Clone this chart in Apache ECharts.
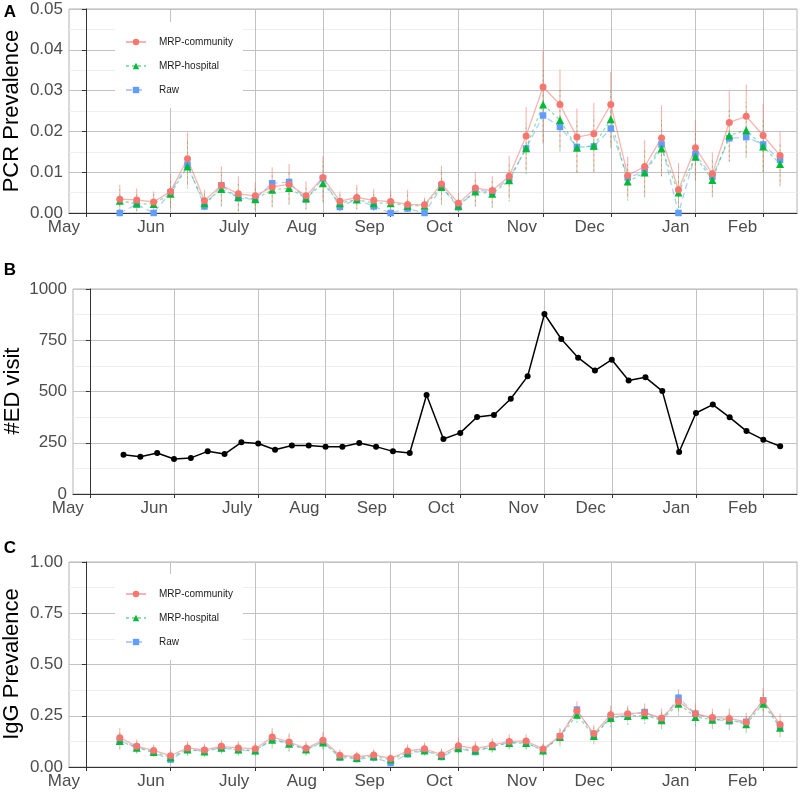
<!DOCTYPE html>
<html><head><meta charset="utf-8">
<script src="https://cdn.jsdelivr.net/npm/echarts@6/dist/echarts.min.js"></script>
<style>html,body{margin:0;padding:0;background:#fff}#c{width:800px;height:793px}</style>
</head><body><div id="c"></div>
<script>
// x positions: week index counted from the "May" break
const weeks = [2,3,4,5,6,7,8,9,10,11,12,13,14,15,16,17,18,19,20,21,22,23,24,25,26,27,28,29,30,31,32,33,34,35,36,37,38,39,40,41];
const monthTickWeeks = [0,5,10,14,18,22,27,31,36,40];
const monthLabels = ['May','Jun','July','Aug','Sep','Oct','Nov','Dec','Jan','Feb'];
const seriesNames = ['MRP-community','MRP-hospital','Raw'];

// Panel A: PCR prevalence
const pcrCommunity = [0.0034,0.0032,0.0027,0.0053,0.0133,0.0030,0.0068,0.0047,0.0042,0.0064,0.0070,0.0042,0.0087,0.0029,0.0038,0.0031,0.0028,0.0021,0.0020,0.0071,0.0024,0.0061,0.0055,0.0090,0.0189,0.0309,0.0266,0.0186,0.0194,0.0266,0.0092,0.0114,0.0184,0.0057,0.0160,0.0096,0.0222,0.0237,0.0190,0.0141];
const pcrHospital = [0.0030,0.0023,0.0022,0.0047,0.0114,0.0024,0.0059,0.0039,0.0034,0.0057,0.0061,0.0036,0.0073,0.0024,0.0033,0.0024,0.0024,0.0018,0.0018,0.0064,0.0018,0.0053,0.0047,0.0080,0.0159,0.0266,0.0228,0.0160,0.0165,0.0230,0.0077,0.0099,0.0158,0.0050,0.0138,0.0081,0.0190,0.0203,0.0163,0.0120];
const pcrRaw = [0,0.0021,0,0.0051,0.0118,0.0016,0.0068,0.0036,0.0034,0.0073,0.0076,0.0033,0.0085,0.0015,0.0034,0.0016,0,0.0011,0,0.0064,0.0014,0.0056,0.0052,0.0084,0.0158,0.0239,0.0211,0.0162,0.0163,0.0207,0.0087,0.0101,0.0168,0,0.0144,0.0089,0.0183,0.0186,0.0168,0.0130];
const pcrCommunityLo = [.0006,.0005,.0005,.0015,.0067,.0008,.0018,.0004,.0008,.0016,.0023,.0010,.0029,.0005,.0010,.0006,.0004,.0003,.0003,.0024,.0004,.0018,.0015,.0035,.0102,.0170,.0155,.0098,.0100,.0163,.0037,.0041,.0090,.0015,.0082,.0041,.0127,.0139,.0102,.0069];
const pcrCommunityHi = [.0069,.0060,.0053,.0096,.0197,.0057,.0114,.0090,.0075,.0112,.0120,.0078,.0139,.0053,.0069,.0059,.0055,.0057,.0038,.0116,.0049,.0100,.0090,.0140,.0260,.0398,.0352,.0256,.0270,.0346,.0138,.0179,.0264,.0122,.0228,.0148,.0299,.0315,.0268,.0199];
const pcrHospitalLo = [.0005,.0004,.0004,.0012,.0060,.0006,.0016,.0005,.0006,.0014,.0020,.0008,.0026,.0004,.0008,.0005,.0003,.0003,.0003,.0020,.0004,.0015,.0012,.0028,.0095,.0175,.0150,.0100,.0102,.0160,.0030,.0038,.0090,.0012,.0080,.0038,.0125,.0135,.0100,.0065];
const pcrHospitalHi = [.0058,.0048,.0046,.0082,.0175,.0048,.0098,.0074,.0062,.0096,.0104,.0066,.0126,.0046,.0060,.0050,.0046,.0046,.0036,.0103,.0040,.0088,.0078,.0120,.0220,.0350,.0305,.0225,.0230,.0300,.0120,.0155,.0228,.0100,.0198,.0130,.0260,.0272,.0228,.0173];

// Panel B: ED visits
const edVisits = [192,182,200,171,176,208,195,252,246,216,237,237,231,231,249,231,208,200,483,268,298,376,385,465,574,878,756,665,602,655,554,569,502,205,395,436,374,307,265,233];

// Panel C: IgG prevalence
const iggCommunity = [.143,.101,.081,.055,.093,.083,.101,.093,.089,.146,.122,.091,.130,.057,.050,.059,.042,.078,.089,.060,.104,.089,.107,.125,.127,.088,.151,.275,.163,.255,.260,.265,.239,.320,.260,.241,.237,.220,.325,.207];
const iggHospital = [.127,.094,.073,.047,.085,.076,.094,.085,.081,.133,.114,.085,.120,.052,.044,.052,.036,.070,.081,.055,.091,.081,.101,.117,.117,.081,.146,.255,.151,.239,.249,.252,.228,.309,.244,.231,.231,.208,.309,.192];
const iggRaw = [.127,.098,.070,.036,.085,.078,.094,.083,.078,.138,.114,.085,.122,.046,.039,.046,.020,.062,.081,.049,.091,.073,.101,.119,.119,.081,.150,.280,.154,.244,.252,.268,.228,.338,.260,.234,.223,.220,.325,.195];
const iggCommunityLo = [.09,.07,.055,.03,.06,.055,.07,.06,.06,.10,.08,.06,.09,.03,.025,.03,.02,.05,.06,.035,.07,.06,.075,.09,.09,.06,.11,.23,.12,.21,.22,.225,.195,.265,.215,.195,.19,.175,.265,.155];
const iggCommunityHi = [.19,.135,.11,.085,.125,.115,.13,.125,.12,.19,.165,.125,.17,.085,.075,.085,.065,.11,.12,.09,.145,.125,.14,.16,.16,.115,.19,.32,.205,.30,.30,.31,.285,.38,.31,.285,.285,.265,.385,.26];
const iggHospitalLo = [.085,.065,.05,.025,.055,.05,.065,.055,.055,.09,.075,.055,.085,.03,.02,.025,.015,.045,.055,.03,.065,.055,.07,.085,.085,.055,.10,.215,.11,.195,.205,.21,.185,.25,.2,.185,.18,.165,.25,.145];
const iggHospitalHi = [.175,.125,.10,.075,.115,.105,.12,.115,.11,.175,.155,.115,.16,.08,.07,.08,.06,.10,.11,.085,.135,.115,.135,.15,.15,.11,.185,.30,.195,.28,.29,.29,.27,.36,.29,.275,.275,.25,.36,.245];

const FONT = '"Liberation Sans", Arial, Helvetica, sans-serif';
const RED = '#F8766D', GREEN = '#00BA38', BLUE = '#619CFF';
const GRID_COLOR = '#c2c2c2', MINOR_COLOR = '#eeeeee', AXIS_COLOR = '#333333';

const chart = echarts.init(document.getElementById('c'), null, {renderer: 'canvas'});

function xAxis(i) {
  return {
    type: 'value', gridIndex: i, min: -1, max: 42,
    axisLine: {show: true, onZero: false, lineStyle: {color: AXIS_COLOR, width: 1}},
    axisTick: {show: true, length: 4, customValues: monthTickWeeks, lineStyle: {color: AXIS_COLOR}},
    axisLabel: {customValues: monthTickWeeks, formatter: v => monthLabels[monthTickWeeks.indexOf(v)],
      fontSize: 17, color: '#4d4d4d', fontFamily: FONT, align: 'right', padding: [0, 6, 0, 0], margin: 6},
    splitLine: {show: true, lineStyle: {color: GRID_COLOR, width: 1}}
  };
}
function yAxis(i, max, interval, fmt) {
  return {
    type: 'value', gridIndex: i, min: 0, max: max, interval: interval,
    axisLine: {show: true, lineStyle: {color: AXIS_COLOR, width: 1}},
    axisTick: {show: true, length: 4, lineStyle: {color: AXIS_COLOR}},
    axisLabel: {formatter: fmt, fontSize: 17, color: '#4d4d4d', fontFamily: FONT, margin: 6},
    splitLine: {show: true, lineStyle: {color: GRID_COLOR, width: 1}},
    minorTick: {show: false, splitNumber: 2},
    minorSplitLine: {show: true, lineStyle: {color: MINOR_COLOR, width: 1}}
  };
}
function lineSeries(i, name, vals, color, lineColor, lineType, symbol, size) {
  return {
    type: 'line', name: name, xAxisIndex: i, yAxisIndex: i,
    data: weeks.map((w, k) => [w, vals[k]]),
    symbol: symbol, symbolSize: size, showAllSymbol: true,
    itemStyle: {color: color},
    lineStyle: {color: lineColor, width: 1.3, type: lineType},
    emphasis: {disabled: true}, animation: false, z: 3
  };
}
function errSeries(i, lo, hi, color, dash) {
  return {
    type: 'custom', xAxisIndex: i, yAxisIndex: i, silent: true, z: 2, animation: false,
    data: weeks.map((w, k) => [w, lo[k], hi[k]]),
    encode: {x: 0, y: [1, 2]},
    renderItem: function (params, api) {
      const a = api.coord([api.value(0), api.value(1)]);
      const b = api.coord([api.value(0), api.value(2)]);
      return {type: 'line', shape: {x1: a[0], y1: a[1], x2: b[0], y2: b[1]},
        style: {stroke: color, lineWidth: 1, lineDash: dash}};
    }
  };
}
function legend(top) {
  return {
    data: seriesNames, orient: 'vertical', left: 115, top: top,
    backgroundColor: '#ffffff', padding: [13, 10, 11, 10],
    itemWidth: 20, itemHeight: 8, itemGap: 10, selectedMode: false,
    textStyle: {fontSize: 10, color: '#1a1a1a', fontFamily: FONT, lineHeight: 14, padding: [0, 0, 0, 8]}
  };
}
function panelSeries(i, comm, hosp, raw, commLo, commHi, hospLo, hospHi) {
  return [
    errSeries(i, commLo, commHi, 'rgba(248,118,109,0.6)', null),
    errSeries(i, hospLo, hospHi, 'rgba(0,186,56,0.45)', [2, 3]),
    lineSeries(i, 'Raw', raw, BLUE, 'rgba(97,156,255,0.5)', [6, 4], 'rect', 6.5),
    lineSeries(i, 'MRP-hospital', hosp, GREEN, 'rgba(0,186,56,0.45)', [3, 3], 'triangle', 8),
    lineSeries(i, 'MRP-community', comm, RED, 'rgba(248,118,109,0.55)', 'solid', 'circle', 7)
  ];
}
function text(x, y, str, size, weight, rot) {
  return {type: 'text', x: x, y: y, rotation: rot || 0, silent: true,
    style: {text: str, fontSize: size, fontWeight: weight, fontFamily: FONT, fill: '#000',
      align: 'center', verticalAlign: 'middle'}};
}

const option = {
  animation: false,
  backgroundColor: '#ffffff',
  textStyle: {fontFamily: FONT},
  grid: [
    {left: 69, right: 3, top: 9, height: 204, show: true, borderColor: '#b3b3b3', borderWidth: 1, outerBoundsMode: 'none'},
    {left: 73, right: 3, top: 289, height: 205, show: true, borderColor: '#b3b3b3', borderWidth: 1, outerBoundsMode: 'none'},
    {left: 69, right: 3, top: 562, height: 205, show: true, borderColor: '#b3b3b3', borderWidth: 1, outerBoundsMode: 'none'}
  ],
  xAxis: [xAxis(0), xAxis(1), xAxis(2)],
  yAxis: [
    yAxis(0, 0.05, 0.01, v => v.toFixed(2)),
    yAxis(1, 1000, 250, v => String(v)),
    yAxis(2, 1, 0.25, v => v.toFixed(2))
  ],
  legend: [legend(22), legend(574)],
  series: [
    ...panelSeries(0, pcrCommunity, pcrHospital, pcrRaw, pcrCommunityLo, pcrCommunityHi, pcrHospitalLo, pcrHospitalHi),
    {type: 'line', name: '#ED visit', xAxisIndex: 1, yAxisIndex: 1,
      data: weeks.map((w, k) => [w, edVisits[k]]),
      symbol: 'circle', symbolSize: 6, showAllSymbol: true,
      itemStyle: {color: '#000'}, lineStyle: {color: '#000', width: 1.5},
      emphasis: {disabled: true}, z: 3},
    ...panelSeries(2, iggCommunity, iggHospital, iggRaw, iggCommunityLo, iggCommunityHi, iggHospitalLo, iggHospitalHi)
  ],
  graphic: [
    text(10, 12, 'A', 17, 'bold'),
    text(10, 270, 'B', 17, 'bold'),
    text(10, 548, 'C', 17, 'bold'),
    text(12, 111, 'PCR Prevalence', 22, 'normal', Math.PI / 2),
    text(13, 391, '#ED visit', 22, 'normal', Math.PI / 2),
    text(12, 664, 'IgG Prevalence', 22, 'normal', Math.PI / 2)
  ]
};
chart.setOption(option);
</script>
</body></html>
